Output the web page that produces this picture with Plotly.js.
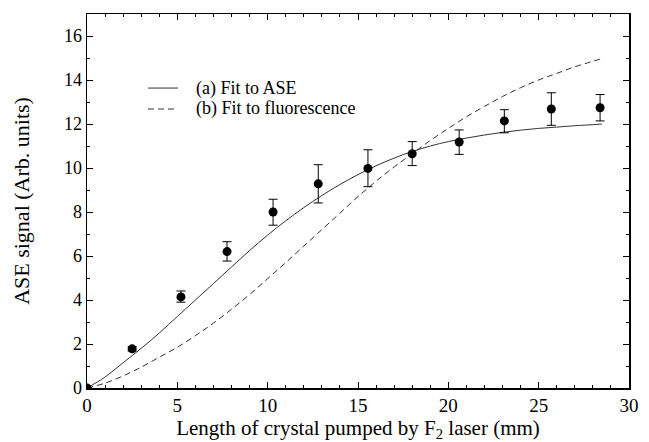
<!DOCTYPE html>
<html>
<head>
<meta charset="utf-8">
<script src="https://cdn.plot.ly/plotly-3.0.1.min.js"></script>
<style>html,body{margin:0;padding:0;background:#fff;}#chart{width:649px;height:442px;}</style>
</head>
<body>
<div id="chart"></div>
<script>
// Measured data (length in mm, ASE signal in arb. units)
var dataX = [0, 2.5, 5.2, 7.75, 10.3, 12.8, 15.55, 18.0, 20.6, 23.1, 25.7, 28.4];
var dataY = [0, 1.78, 4.14, 6.2, 8.0, 9.28, 9.98, 10.65, 11.18, 12.14, 12.68, 12.74];
var errPlus  = [0, 0.1, 0.27, 0.45, 0.58, 0.87, 0.85, 0.55, 0.55, 0.51, 0.74, 0.6];
var errMinus = [0, 0.1, 0.24, 0.43, 0.6, 0.87, 0.83, 0.54, 0.56, 0.54, 0.74, 0.6];

// (a) Fit to ASE
var fitAX = [0, 1, 2, 3, 4, 5, 6, 7, 8, 9, 10, 11, 12, 13, 14, 15, 16, 17, 18, 19, 20, 21, 22, 23, 24, 25, 26, 27, 28, 28.5];
var fitAY = [0, 0.5, 1.15, 1.8, 2.5, 3.25, 4.0, 4.75, 5.5, 6.25, 6.95, 7.6, 8.2, 8.75, 9.25, 9.7, 10.1, 10.45, 10.75, 11.0, 11.2, 11.36, 11.5, 11.62, 11.72, 11.8, 11.86, 11.92, 11.97, 12.0];

// (b) Fit to fluorescence
var fitBX = [0, 1, 2, 3, 4, 5, 6, 7, 8, 9, 10, 11, 12, 13, 14, 15, 16, 17, 18, 19, 20, 21, 22, 23, 24, 25, 26, 27, 28, 28.4];
var fitBY = [0, 0.22, 0.55, 0.95, 1.4, 1.85, 2.38, 2.95, 3.58, 4.25, 4.97, 5.7, 6.45, 7.2, 7.95, 8.7, 9.4, 10.05, 10.65, 11.25, 11.8, 12.33, 12.8, 13.25, 13.65, 14.0, 14.3, 14.6, 14.85, 14.95];

var xTitle = 'Length of crystal pumped by F<sub>2</sub> laser (mm)';
var yTitle = 'ASE signal (Arb. units)';
var legendNames = ['(a) Fit to ASE', '(b) Fit to fluorescence'];
var legendDash = ['solid', '6px,4px'];

var serif = 'Liberation Serif';
var lineColor = '#333';

var traces = [
  {x: fitAX, y: fitAY, type: 'scatter', mode: 'lines', name: legendNames[0], showlegend: false,
   line: {color: lineColor, width: 1, shape: 'spline', smoothing: 1}},
  {x: fitBX, y: fitBY, type: 'scatter', mode: 'lines', name: legendNames[1], showlegend: false,
   line: {color: lineColor, width: 1, dash: legendDash[1], shape: 'spline', smoothing: 1}},
  {x: dataX, y: dataY, type: 'scatter', mode: 'markers', showlegend: false,
   marker: {color: '#000', size: 9},
   error_y: {type: 'data', symmetric: false, array: errPlus, arrayminus: errMinus,
             color: '#000', thickness: 1, width: 4.5}}
];

// custom legend (paper coordinates)
var legRowY = [0.802, 0.746];
var shapes = [], annotations = [];
legendNames.forEach(function (name, i) {
  shapes.push({type: 'line', xref: 'paper', yref: 'paper', x0: 0.1125, x1: 0.168,
               y0: legRowY[i], y1: legRowY[i],
               line: {color: lineColor, width: 1, dash: legendDash[i]}});
  annotations.push({xref: 'paper', yref: 'paper', x: 0.197, y: legRowY[i],
                    xanchor: 'left', yanchor: 'middle', showarrow: false, text: name,
                    font: {family: serif, size: 18, color: '#000'}});
});

var axisCommon = {
  showline: true, linecolor: '#000', linewidth: 1.5, mirror: 'allticks',
  ticks: 'inside', ticklen: 6, tickwidth: 1, tickcolor: '#000',
  showgrid: false, zeroline: false
};

var layout = {
  width: 649, height: 442,
  margin: {l: 87, r: 20, t: 14, b: 54},
  paper_bgcolor: '#fff', plot_bgcolor: '#fff',
  font: {family: serif, color: '#000'},
  xaxis: Object.assign({}, axisCommon, {
    range: [0, 30], dtick: 5, tick0: 0,
    tickfont: {family: serif, size: 19, color: '#000'},
    minor: {dtick: 1, ticks: 'inside', ticklen: 3, tickcolor: '#000', tickwidth: 1},
    title: {text: xTitle, font: {family: serif, size: 21, color: '#000'}, standoff: 0}
  }),
  yaxis: Object.assign({}, axisCommon, {
    range: [0, 17], dtick: 2, tick0: 0,
    tickfont: {family: serif, size: 18, color: '#000'},
    minor: {dtick: 1, ticks: 'inside', ticklen: 3, tickcolor: '#000', tickwidth: 1},
    title: {text: yTitle, font: {family: serif, size: 22, color: '#000'}, standoff: 28}
  }),
  showlegend: false,
  shapes: shapes,
  annotations: annotations
};

Plotly.newPlot('chart', traces, layout, {displayModeBar: false, staticPlot: true});
</script>
</body>
</html>
